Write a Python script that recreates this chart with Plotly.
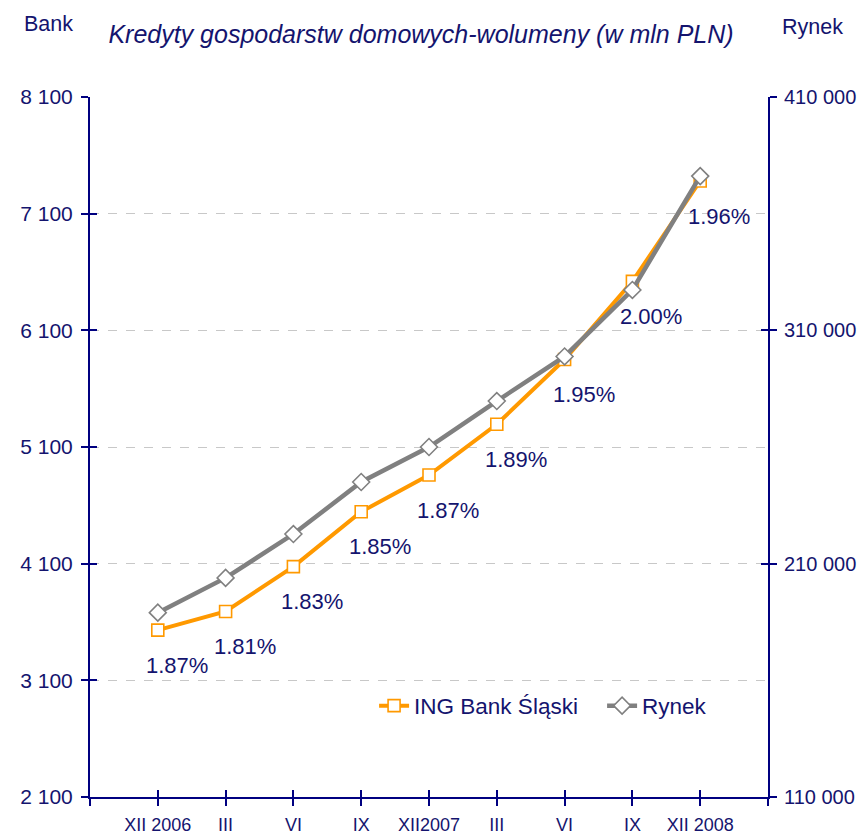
import plotly.graph_objects as go

categories = ["XII 2006", "III", "VI", "IX", "XII2007", "III", "VI", "IX", "XII 2008"]
ing_values = [3530, 3690, 4075, 4545, 4860, 5295, 5850, 6520, 7380]
rynek_values = [189000, 203900, 222700, 245000, 260000, 279700, 298800, 327300, 376100]
share_labels = ["1.87%", "1.81%", "1.83%", "1.85%", "1.87%", "1.89%", "1.95%", "2.00%", "1.96%"]

left_ticks = [2100, 3100, 4100, 5100, 6100, 7100, 8100]
right_ticks = [110000, 210000, 310000, 410000]

NAVY = "#000080"
TEXT = "#14146e"
FONT = "Liberation Sans, Arial, sans-serif"

# the page body adds an 8px offset, so the figure is 8px smaller than the window
W, H = 859, 826
ML, MR, MT, MB = 82, 99, 89, 37
PW, PH = W - ML - MR, H - MT - MB

xs = list(range(len(categories)))
xtickvals = [-1] + xs + [len(categories)]
xticktext = [""] + categories + [""]

fig = go.Figure()
fig.add_trace(go.Scatter(
    x=xs, y=ing_values, name="ING Bank Śląski", mode="lines+markers",
    line=dict(color="#FF9900", width=4),
    marker=dict(symbol="square", size=12, color="white", line=dict(color="#FF9900", width=1.6)),
    xaxis="x", yaxis="y"))
fig.add_trace(go.Scatter(
    x=xs, y=rynek_values, name="Rynek", mode="lines+markers",
    line=dict(color="#808080", width=4.5),
    marker=dict(symbol="diamond", size=13, color="white", line=dict(color="#808080", width=1.6)),
    xaxis="x", yaxis="y2"))
# empty helper traces so the inner-tick axes are drawn
fig.add_trace(go.Scatter(x=[None], y=[None], xaxis="x2", yaxis="y3", showlegend=False, hoverinfo="skip"))
fig.add_trace(go.Scatter(x=[None], y=[None], xaxis="x2", yaxis="y4", showlegend=False, hoverinfo="skip"))

for xi, yi, lab in zip(xs, ing_values, share_labels):
    fig.add_annotation(x=xi, y=yi, xref="x", yref="y", text=lab, showarrow=False,
                       xshift=19, yshift=-35, xanchor="center", yanchor="middle",
                       font=dict(family=FONT, size=22, color=TEXT))

fig.add_annotation(x=-68 / PW, y=1 + 73.5 / PH, xref="paper", yref="paper", text="Bank",
                   showarrow=False, xanchor="left", yanchor="middle",
                   font=dict(family=FONT, size=21.5, color=TEXT))
fig.add_annotation(x=1 + 12 / PW, y=1 + 70 / PH, xref="paper", yref="paper", text="Rynek",
                   showarrow=False, xanchor="left", yanchor="middle",
                   font=dict(family=FONT, size=21.5, color=TEXT))

axis_common = dict(showline=True, linecolor=NAVY, linewidth=2, zeroline=False,
                   tickcolor=NAVY, tickwidth=2, ticklen=7, automargin=False)
inner_common = dict(showticklabels=False, showgrid=False, showline=False, zeroline=False,
                    tickcolor=NAVY, tickwidth=2, ticklen=7, ticks="inside", automargin=False)

fig.update_layout(
    width=W, height=H,
    margin=dict(l=ML, r=MR, t=MT, b=MB, autoexpand=False),
    paper_bgcolor="white", plot_bgcolor="white",
    separators=". ",
    font=dict(family=FONT, color=TEXT),
    title=dict(text="Kredyty gospodarstw domowych-wolumeny (w mln PLN)",
               x=413 / W, xanchor="center", y=1 - 26.5 / H, yanchor="middle",
               font=dict(family=FONT, size=25, color=TEXT, style="italic")),
    showlegend=True,
    legend=dict(orientation="h", x=0.419, y=0.13, xanchor="left", yanchor="middle",
                bgcolor="rgba(0,0,0,0)", font=dict(family=FONT, size=22.5, color=TEXT),
                entrywidth=183, entrywidthmode="pixels"),
    xaxis=dict(range=[-1, len(categories)], tickmode="array", tickvals=xtickvals,
               ticktext=xticktext, ticks="outside", showgrid=False, ticklabelstandoff=3,
               tickfont=dict(family=FONT, size=18, color=TEXT), **axis_common),
    xaxis2=dict(range=[-1, len(categories)], tickmode="array", tickvals=xtickvals,
                overlaying="x", anchor="y", side="bottom", **inner_common),
    yaxis=dict(range=[2100, 8100], tickmode="array", tickvals=left_ticks, tickformat=",d",
               ticks="outside", showgrid=True, gridcolor="#C8C8C8", griddash="dash", gridwidth=1,
               ticklabelstandoff=4,
               tickfont=dict(family=FONT, size=21, color=TEXT), **axis_common),
    yaxis2=dict(range=[110000, 410000], tickmode="array", tickvals=right_ticks, tickformat=",d",
                overlaying="y", side="right", anchor="x", ticks="outside", showgrid=False,
                ticklabelstandoff=3,
                tickfont=dict(family=FONT, size=20, color=TEXT), **axis_common),
    yaxis3=dict(range=[2100, 8100], tickmode="array", tickvals=left_ticks, overlaying="y",
                side="left", anchor="x2", **inner_common),
    yaxis4=dict(range=[110000, 410000], tickmode="array", tickvals=right_ticks, overlaying="y",
                side="right", anchor="x2", **inner_common),
)

fig.write_html("out.html")
